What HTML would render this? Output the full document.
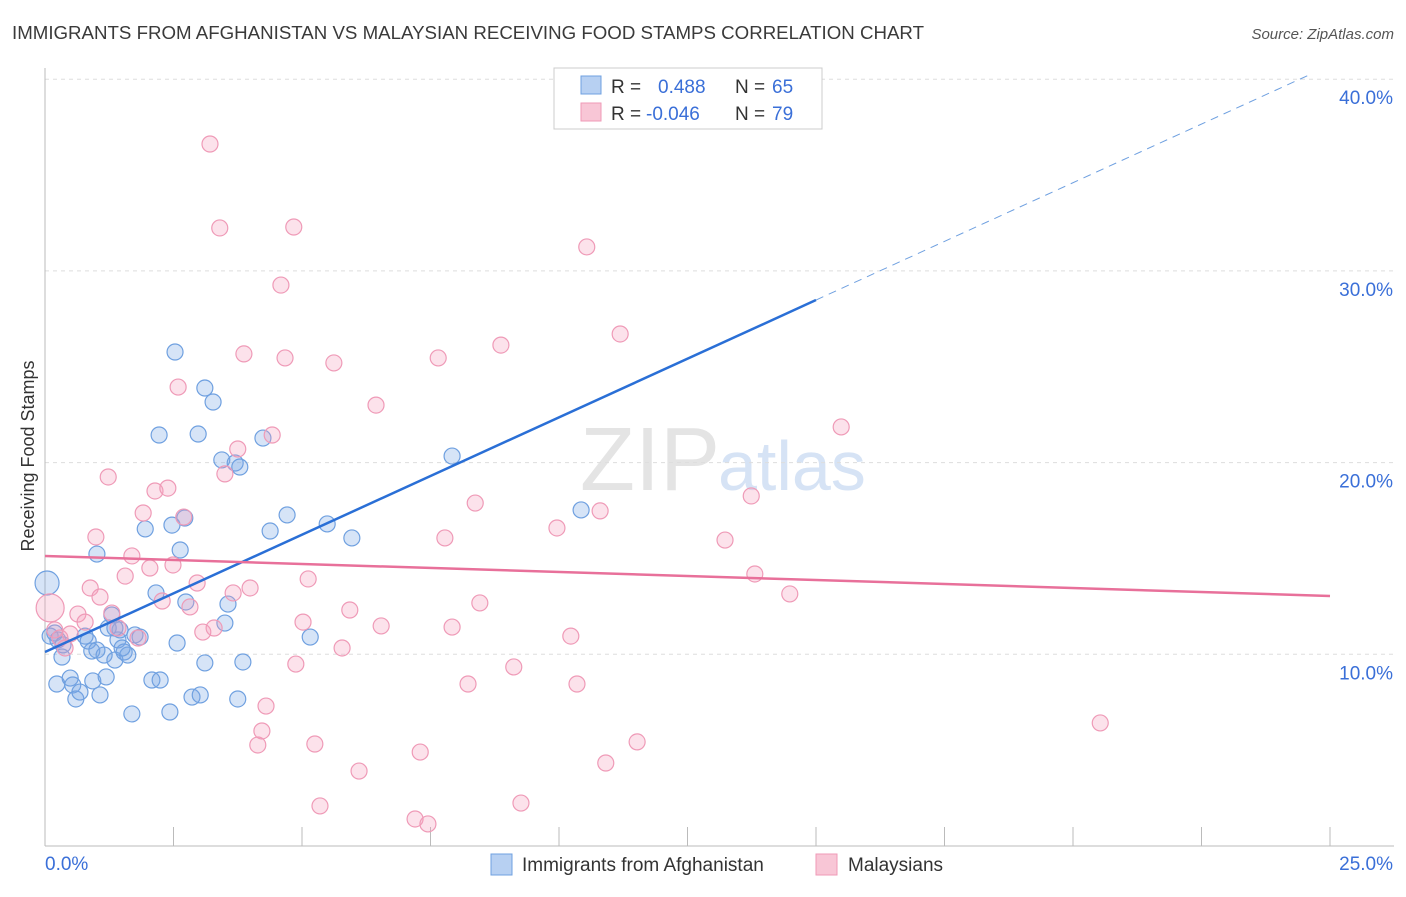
<!DOCTYPE html>
<html><head><meta charset="utf-8"><style>
body{margin:0;background:#fff;font-family:"Liberation Sans",sans-serif;}
svg text{font-family:"Liberation Sans",sans-serif;}
</style></head><body>
<svg id="chart" width="1406" height="892" xmlns="http://www.w3.org/2000/svg">
<text x="12" y="39" font-size="18.7" fill="#3a3a3a">IMMIGRANTS FROM AFGHANISTAN VS MALAYSIAN RECEIVING FOOD STAMPS CORRELATION CHART</text>
<text x="1394" y="39" font-size="15" fill="#555" text-anchor="end" font-style="italic">Source: ZipAtlas.com</text>
<text x="34" y="456" font-size="18" fill="#333" text-anchor="middle" transform="rotate(-90 34 456)">Receiving Food Stamps</text>
<text x="720" y="490" font-size="90" fill="#e4e4e4" text-anchor="end" font-family="Liberation Serif">ZIP</text>
<text x="718" y="490" font-size="70" fill="#d6e3f5">atlas</text>
<g id="grid"></g><g id="axes"></g><g id="pts"></g><g id="trend"></g>
<g>
<rect x="554" y="68" width="268" height="61" fill="#fff" stroke="#ccc"/>
<rect x="581" y="76" width="20" height="18" fill="#b7d0f2" stroke="#6fa0e0"/>
<rect x="581" y="103" width="20" height="18" fill="#f8c6d6" stroke="#ef9ab7"/>
<text x="611" y="93" font-size="19" fill="#333">R = </text><text x="658" y="93" font-size="19" fill="#3a6fd8">0.488</text>
<text x="735" y="93" font-size="19" fill="#333">N = </text><text x="772" y="93" font-size="19" fill="#3a6fd8">65</text>
<text x="611" y="120" font-size="19" fill="#333">R = </text><text x="646" y="120" font-size="19" fill="#3a6fd8">-0.046</text>
<text x="735" y="120" font-size="19" fill="#333">N = </text><text x="772" y="120" font-size="19" fill="#3a6fd8">79</text>
</g>
<g>
<rect x="491" y="854" width="21" height="21" fill="#b7d0f2" stroke="#6fa0e0"/>
<text x="522" y="871" font-size="19" fill="#333">Immigrants from Afghanistan</text>
<rect x="816" y="854" width="21" height="21" fill="#f8c6d6" stroke="#ef9ab7"/>
<text x="848" y="871" font-size="19" fill="#333">Malaysians</text>
</g>
</svg>
<script>
const xTicks=[0,2.5,5,7.5,10,12.5,15,17.5,20,22.5,25];
const yTickVals=[10,20,30,40];
const yTickLabels=["10.0%","20.0%","30.0%","40.0%"];
const blueX=[0.04,0.1,0.19,0.25,0.35,0.23,0.33,0.49,0.54,0.6,0.68,0.78,0.84,0.91,0.93,1.01,1.07,1.15,1.19,1.3,1.23,1.36,1.42,1.46,1.54,1.61,1.69,1.75,1.95,2.16,2.08,2.24,2.22,2.43,2.47,2.53,2.57,2.63,2.74,2.86,2.98,3.02,3.11,3.11,3.27,3.44,3.5,3.56,3.7,3.79,3.75,3.85,4.24,4.38,4.71,5.16,5.49,5.97,7.92,10.43,1.5,1.85,2.72,1.36,1.01];
const blueY=[13.72,10.95,11.11,10.75,10.49,8.45,9.86,8.76,8.4,7.67,8.03,10.95,10.69,10.17,8.61,15.23,7.88,9.96,8.82,12.05,11.37,9.7,10.75,11.27,10.12,9.96,6.89,11.01,16.54,13.2,8.66,8.66,21.44,6.99,16.74,25.77,10.59,15.44,12.73,7.77,21.49,7.88,23.89,9.55,23.16,20.14,11.63,12.62,19.98,19.77,7.67,9.6,21.28,16.43,17.27,10.9,16.8,16.07,20.34,17.53,10.33,10.9,17.11,11.37,10.22];
const pinkX=[0.1,0.19,0.29,0.39,0.49,0.64,0.78,0.88,0.99,1.07,1.23,1.3,1.42,1.56,1.69,1.81,1.91,2.04,2.14,2.28,2.39,2.49,2.59,2.7,2.82,2.96,3.07,3.21,3.29,3.4,3.5,3.66,3.75,3.87,3.99,4.14,4.22,4.3,4.42,4.59,4.67,4.84,4.88,5.02,5.12,5.25,5.35,5.62,5.78,5.93,6.11,6.44,6.54,7.2,7.3,7.45,7.65,7.78,7.92,8.23,8.37,8.46,8.87,9.12,9.26,9.96,10.23,10.35,10.54,10.8,10.91,11.19,11.52,13.23,13.74,13.81,14.49,15.49,20.53];
const pinkY=[12.42,11.27,10.85,10.33,11.06,12.1,11.68,13.46,16.12,12.99,19.25,12.15,11.37,14.08,15.13,10.85,17.37,14.5,18.52,12.78,18.67,14.66,23.94,17.16,12.47,13.72,11.16,36.62,11.37,32.24,19.41,13.2,20.71,25.67,13.46,5.27,6.0,7.3,21.44,29.26,25.46,32.29,9.49,11.68,13.93,5.32,2.09,25.2,10.33,12.31,3.91,23.0,11.48,1.41,4.9,1.15,25.46,16.07,11.42,8.45,17.89,12.68,26.13,9.34,2.24,16.59,10.95,8.45,31.25,17.48,4.33,26.71,5.43,15.96,18.26,14.19,13.15,21.86,6.42];
const blueTrend=[10.12,1.224];
const pinkTrend=[15.13,-0.0836];
const X=v=>45+v*51.4, Y=v=>846-v*19.17;
const NS="http://www.w3.org/2000/svg";
function mk(t,a,p){const e=document.createElementNS(NS,t);for(const k in a)e.setAttribute(k,a[k]);p.appendChild(e);return e;}
const grid=document.getElementById('grid'),axes=document.getElementById('axes'),pts=document.getElementById('pts'),tr=document.getElementById('trend');
yTickVals.forEach((v,i)=>{
 const l=mk('line',{x1:45,x2:1394,y1:Y(v),y2:Y(v),stroke:'#ddd','stroke-dasharray':'4,4'},grid);
 
 
 const t=mk('text',{x:1393,y:Y(v)+25,'font-size':19,fill:'#3a6fd8','text-anchor':'end'},grid);
 t.textContent=yTickLabels[i];
 
 
});
mk('line',{x1:45,x2:45,y1:68,y2:846,stroke:'#bbb'},axes);
mk('line',{x1:45,x2:1394,y1:846,y2:846,stroke:'#bbb'},axes);
xTicks.forEach(v=>{const l=mk('line',{x1:X(v),x2:X(v),y1:827,y2:846,stroke:'#bbb'},axes);
 
 });
let t=mk('text',{x:45,y:870,'font-size':19,fill:'#3a6fd8'},axes);t.textContent='0.0%';


t=mk('text',{x:1393,y:870,'font-size':19,fill:'#3a6fd8','text-anchor':'end'},axes);t.textContent='25.0%';


blueX.forEach((x,i)=>{const c=mk('circle',{cx:X(x),cy:Y(blueY[i]),r:i==0?12:8,fill:'rgba(120,165,230,0.3)',stroke:'#6fa0e0','stroke-width':1.2},pts);
 
 });
pinkX.forEach((x,i)=>{const c=mk('circle',{cx:X(x),cy:Y(pinkY[i]),r:i==0?14:8,fill:'rgba(245,160,190,0.3)',stroke:'#ef9ab7','stroke-width':1.2},pts);
 
 });
let l=mk('line',{x1:X(0),y1:Y(blueTrend[0]),x2:X(15),y2:Y(blueTrend[0]+15*blueTrend[1]),stroke:'#2a6fd6','stroke-width':2.5},tr);


l=mk('line',{x1:X(15),y1:Y(blueTrend[0]+15*blueTrend[1]),x2:X(24.6),y2:Y(blueTrend[0]+24.6*blueTrend[1]),stroke:'#6fa0e0','stroke-width':1,'stroke-dasharray':'8,6'},tr);


l=mk('line',{x1:X(0),y1:Y(pinkTrend[0]),x2:X(25),y2:Y(pinkTrend[0]+25*pinkTrend[1]),stroke:'#e8709a','stroke-width':2.5},tr);


</script>
</body></html>
